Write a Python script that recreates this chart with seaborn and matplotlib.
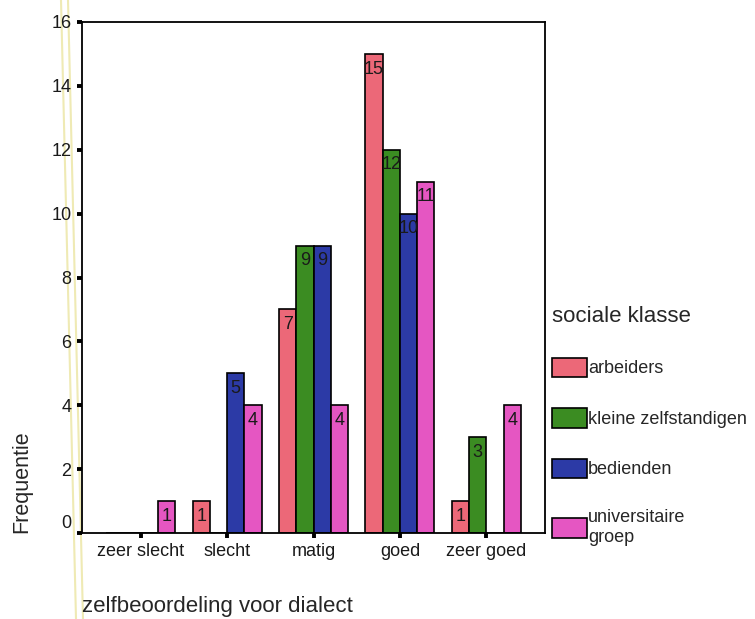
import numpy as np
import pandas as pd
import matplotlib.pyplot as plt
import matplotlib.transforms as mtransforms
from matplotlib.lines import Line2D
import seaborn as sns

# Data
categories = ['zeer slecht', 'slecht', 'matig', 'goed', 'zeer goed']
klassen = ['arbeiders', 'kleine zelfstandigen', 'bedienden', 'universitaire groep']
legend_labels = ['arbeiders', 'kleine zelfstandigen', 'bedienden', 'universitaire\ngroep']
arbeiders = [0, 1, 7, 15, 1]
kleine_zelfstandigen = [0, 0, 9, 12, 3]
bedienden = [0, 5, 9, 10, 0]
universitaire_groep = [1, 4, 4, 11, 4]
colors = ['#ec6878', '#3b8c22', '#2c3aa6', '#e556c2']
y_ticks = [0, 2, 4, 6, 8, 10, 12, 14, 16]

# Long format table for seaborn
series = [arbeiders, kleine_zelfstandigen, bedienden, universitaire_groep]
rows = []
for klasse, values in zip(klassen, series):
    for cat, v in zip(categories, values):
        rows.append({'zelfbeoordeling': cat, 'klasse': klasse, 'frequentie': v})
df = pd.DataFrame(rows)

sns.set_style('white')
plt.rcParams['font.family'] = ['Liberation Sans', 'DejaVu Sans']

fig = plt.figure(figsize=(7.55, 6.19), dpi=100)
ax = fig.add_axes([82 / 755, 1 - 533 / 619, 463 / 755, 511 / 619])

sns.barplot(data=df, x='zelfbeoordeling', y='frequentie', hue='klasse',
            order=categories, hue_order=klassen, palette=colors,
            saturation=1, width=0.8, edgecolor='black', linewidth=1.2,
            errorbar=None, ax=ax)

# value labels inside the top of each bar, skip empty bars
for container, values in zip(ax.containers, series):
    labels = [str(v) if v > 0 else '' for v in values]
    ax.bar_label(container, labels=labels, padding=-17, fontsize=13, color='#1a1a1a')

ax.set_xlim(-0.68, 4.68)
ax.set_ylim(0, 16)
ax.set_yticks(y_ticks)
ax.set_yticklabels([str(t) for t in y_ticks])

for spine in ax.spines.values():
    spine.set_visible(True)
    spine.set_color('black')
    spine.set_linewidth(1.3)

ax.tick_params(axis='both', direction='out', length=3.5, width=2.8, color='black',
               labelsize=13, labelcolor='#1a1a1a', bottom=True, left=True)
ax.tick_params(axis='y', pad=4)
ax.tick_params(axis='x', pad=3.5)

# the 0 label sits a bit above its tick in the original
zero_label = ax.yaxis.get_major_ticks()[0].label1
zero_label.set_transform(zero_label.get_transform() +
                         mtransforms.ScaledTranslation(0, 0.12, fig.dpi_scale_trans))

ax.set_xlabel('zelfbeoordeling voor dialect', fontsize=16, ha='left', va='top')
ax.xaxis.set_label_coords(0, -0.124)
ax.set_ylabel('Frequentie', fontsize=15.5, ha='left', va='bottom')
ax.yaxis.set_label_coords(-0.108, 0.0)

# legend outside on the right
handles = ax.get_legend().legend_handles
ax.get_legend().remove()
leg = ax.legend(handles, legend_labels, title='sociale klasse',
                loc='upper left', bbox_to_anchor=(552 / 755, 1 - 306 / 619),
                bbox_transform=fig.transFigure, frameon=False,
                fontsize=13, title_fontsize=16, borderpad=0, borderaxespad=0,
                handlelength=1.94, handleheight=1.28, handletextpad=0.05,
                labelspacing=1.7, alignment='left')

# faint highlighter stripe from the scan
for x0, x1 in [(61, 76), (68, 83)]:
    fig.add_artist(Line2D([x0 / 755, x1 / 755], [1, 0], color='#efeab4', lw=1.5,
                          transform=fig.transFigure, zorder=0))

fig.savefig('out.png', dpi=100)
